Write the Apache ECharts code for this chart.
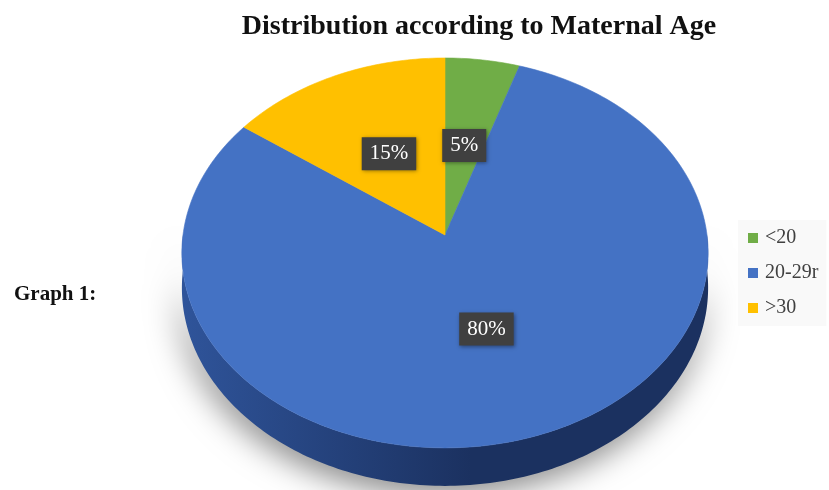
<!DOCTYPE html>
<html>
<head>
<meta charset="utf-8">
<script src="https://cdn.jsdelivr.net/npm/echarts@6/dist/echarts.min.js"></script>
<style>
html,body{margin:0;padding:0;background:#fff;}
#main{width:829px;height:490px;}
</style>
</head>
<body>
<div id="main"></div>
<script>
// ---- data ----
const categories = ['<20', '20-29r', '>30'];
const values = [5, 80, 15];
const valueLabels = ['5%', '80%', '15%'];
const titleText = 'Distribution according to Maternal Age';
const sideText = 'Graph 1:';

// ---- styles ----
const palette = ['#70ad47', '#4472c4', '#ffc000'];
const sideStops = [
  ['#3b6a2a', '#2c5020'],
  ['#2f549a', '#1b3160'],
  ['#a07800', '#806000']
];

// ---- geometry of the tilted pie ----
const CX = 445, CY = 235, RX = 262, KY = 193.3, P = 0.092, DEPTH = 34.5;
const total = values.reduce((a, b) => a + b, 0);

function proj(r, deg) {
  const t = deg * Math.PI / 180;
  const X = r * Math.sin(t), Z = r * Math.cos(t);
  const d = 1 + P * Z;
  return [CX + RX * X / d, CY - KY * Z / d, DEPTH / d];
}

function sliceRange(i) {
  let cum = 0;
  for (let k = 0; k < i; k++) cum += values[k];
  return [360 * cum / total, 360 * (cum + values[i]) / total];
}

function makeRender(i) {
  return function (params, api) {
    const [a0, a1] = sliceRange(i);
    const children = [];
    // side band (front half only)
    const s = Math.max(a0, 90), e = Math.min(a1, 270);
    if (e > s) {
      const topPts = [], botPts = [];
      for (let a = s; a <= e + 1e-9; a += 1) {
        const p = proj(1, Math.min(a, e));
        topPts.push([p[0], p[1]]);
        botPts.push([p[0], p[1] + p[2]]);
      }
      const pts = topPts.concat(botPts.reverse());
      children.push({
        type: 'polygon',
        z2: 1,
        shape: { points: pts },
        style: {
          fill: {
            type: 'linear', x: 0, y: 0, x2: 1, y2: 0,
            colorStops: [
              { offset: 0, color: sideStops[i][0] },
              { offset: 0.55, color: sideStops[i][1] },
              { offset: 1, color: sideStops[i][1] }
            ]
          },
          shadowBlur: 32,
          shadowColor: 'rgba(0,0,0,0.5)',
          shadowOffsetX: -3,
          shadowOffsetY: 8
        }
      });
    }
    // top face
    const face = [[CX, CY]];
    for (let a = a0; a <= a1 + 1e-9; a += 1) {
      const p = proj(1, Math.min(a, a1));
      face.push([p[0], p[1]]);
    }
    const pe = proj(1, a1);
    face.push([pe[0], pe[1]]);
    children.push({
      type: 'polygon',
      z2: 10,
      shape: { points: face },
      style: { fill: palette[i], stroke: palette[i], lineWidth: 0.6 }
    });
    // label
    const lp = proj(0.49, (a0 + a1) / 2);
    children.push({
      type: 'text',
      z2: 30,
      x: lp[0],
      y: lp[1],
      style: {
        text: valueLabels[i],
        fill: '#ffffff',
        fontFamily: 'Liberation Serif, serif',
        fontSize: 21,
        align: 'center',
        verticalAlign: 'middle',
        backgroundColor: '#404040',
        padding: [7, 8, 5, 8],
        shadowBlur: 4,
        shadowColor: 'rgba(0,0,0,0.4)',
        shadowOffsetX: 1,
        shadowOffsetY: 1
      }
    });
    return { type: 'group', children: children };
  };
}

const chart = echarts.init(document.getElementById('main'), null, { renderer: 'canvas' });

const series = categories.map((name, i) => ({
  type: 'custom',
  name: name,
  coordinateSystem: 'none',
  itemStyle: { color: palette[i] },
  data: [values[i]],
  renderItem: makeRender(i),
  silent: true
}));

chart.setOption({
  backgroundColor: '#ffffff',
  animation: false,
  title: [
    {
      text: titleText,
      left: 474,
      top: 8,
      textAlign: 'center',
      textStyle: { fontFamily: 'Liberation Serif, serif', fontWeight: 'bold', fontSize: 28, color: '#111111' }
    },
    {
      text: sideText,
      left: 9,
      top: 279,
      textStyle: { fontFamily: 'Liberation Serif, serif', fontWeight: 'bold', fontSize: 21, color: '#111111' }
    }
  ],
  legend: {
    orient: 'vertical',
    left: 738,
    top: 220,
    padding: [8, 8, 8, 10],
    backgroundColor: '#f9f9f9',
    itemWidth: 10,
    itemHeight: 10,
    itemGap: 15,
    icon: 'rect',
    data: categories,
    textStyle: { fontFamily: 'Liberation Serif, serif', fontSize: 20, color: '#404040', padding: [0, 0, 0, 2] }
  },
  series: series
});
</script>
</body>
</html>
